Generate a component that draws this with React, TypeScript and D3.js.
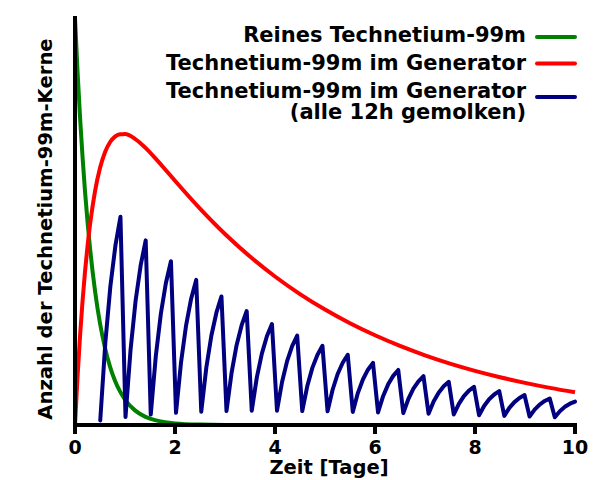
import React from "react";
import * as d3 from "d3";

// ---- data ----
const X_TICKS = [0, 2, 4, 6, 8, 10];

// Pure Tc-99m (decay, half-life 6h)
const GREEN_T = [0, 0.05, 0.1, 0.15, 0.2, 0.25, 0.3, 0.35, 0.4, 0.5, 0.6, 0.7, 0.8, 0.9, 1.0, 1.2, 1.4, 1.6, 1.8, 2.0, 2.5, 3, 4, 5, 6, 7, 8, 9, 10];
const GREEN_V = [1, 0.8706, 0.7579, 0.6598, 0.5743, 0.5, 0.4353, 0.3789, 0.3299, 0.25, 0.1895, 0.1436, 0.1088, 0.0825, 0.0625, 0.0359, 0.0206, 0.0118, 0.0068, 0.0039, 0.001, 0.0002, 0, 0, 0, 0, 0, 0, 0];

// Tc-99m in generator
const RED_T = [0, 0.05, 0.1, 0.15, 0.2, 0.25, 0.3, 0.4, 0.5, 0.6, 0.7, 0.8, 0.9, 1.0, 1.2, 1.4, 1.6, 1.8, 2.0, 2.5, 3, 3.5, 4, 4.5, 5, 5.5, 6, 6.5, 7, 7.5, 8, 8.5, 9, 9.5, 10];
const RED_V = [0, 0.1169, 0.2173, 0.3032, 0.3765, 0.4389, 0.4919, 0.5742, 0.6316, 0.6702, 0.6947, 0.7086, 0.7146, 0.7147, 0.7031, 0.682, 0.6563, 0.6285, 0.6001, 0.5316, 0.4692, 0.4139, 0.3649, 0.3217, 0.2836, 0.25, 0.2204, 0.1943, 0.1713, 0.151, 0.1331, 0.1174, 0.1035, 0.0912, 0.0804];

// Tc-99m in generator, milked every 12h
const BLUE_T = [
  0.505, 0.606, 0.707, 0.808, 0.909,
  1.010, 1.111, 1.212, 1.313, 1.414,
  1.515, 1.616, 1.717, 1.818, 1.919,
  2.020, 2.121, 2.222, 2.323, 2.424,
  2.525, 2.626, 2.727, 2.828, 2.929,
  3.030, 3.131, 3.232, 3.333, 3.434,
  3.535, 3.636, 3.737, 3.838, 3.939,
  4.040, 4.141, 4.242, 4.343, 4.444,
  4.545, 4.646, 4.747, 4.848, 4.949,
  5.051, 5.152, 5.253, 5.354, 5.455,
  5.556, 5.657, 5.758, 5.859, 5.960,
  6.061, 6.162, 6.263, 6.364, 6.465,
  6.566, 6.667, 6.768, 6.869, 6.970,
  7.071, 7.172, 7.273, 7.374, 7.475,
  7.576, 7.677, 7.778, 7.879, 7.980,
  8.081, 8.182, 8.283, 8.384, 8.485,
  8.586, 8.687, 8.788, 8.889, 8.990,
  9.091, 9.192, 9.293, 9.394, 9.495,
  9.596, 9.697, 9.798, 9.899, 10.0,
];
const BLUE_V = [
  0.0111, 0.2013, 0.3402, 0.4405, 0.5116,
  0.0195, 0.1846, 0.3051, 0.392, 0.4536,
  0.0256, 0.1689, 0.2734, 0.3488, 0.4022,
  0.0298, 0.1542, 0.2449, 0.3103, 0.3565,
  0.0326, 0.1406, 0.2193, 0.2759, 0.3159,
  0.0343, 0.128, 0.1962, 0.2453, 0.28,
  0.035, 0.1163, 0.1755, 0.2181, 0.2481,
  0.035, 0.1056, 0.1569, 0.1938, 0.2198,
  0.0344, 0.0957, 0.1403, 0.1722, 0.1947,
  0.0335, 0.0866, 0.1253, 0.153, 0.1725,
  0.0322, 0.0784, 0.1119, 0.1359, 0.1527,
  0.0308, 0.0708, 0.0999, 0.1207, 0.1353,
  0.0292, 0.0639, 0.0891, 0.1071, 0.1198,
  0.0275, 0.0576, 0.0795, 0.0951, 0.106,
  0.0258, 0.0519, 0.0709, 0.0844, 0.0939,
  0.0241, 0.0468, 0.0632, 0.0749, 0.0831,
  0.0224, 0.0421, 0.0563, 0.0665, 0.0736,
  0.0207, 0.0378, 0.0502, 0.059, 0.0651,
  0.0191, 0.034, 0.0447, 0.0523, 0.0576,
];

const LEGEND_LABELS = [
  ["Reines Technetium-99m"],
  ["Technetium-99m im Generator"],
  ["Technetium-99m im Generator", "(alle 12h gemolken)"],
];
const COLORS = ["#008000", "#ff0000", "#000080"];
const X_TITLE = "Zeit [Tage]";
const Y_TITLE = "Anzahl der Technetium-99m-Kerne";

// ---- layout ----
const W = 600;
const H = 480;
const FONT = "'DejaVu Sans', sans-serif";

export default function App() {
  const x = d3.scaleLinear().domain([0, 10]).range([75, 575]);
  const y = d3.scaleLinear().domain([0, 1]).range([425, 18]);

  const line = d3
    .line<[number, number]>()
    .x((d) => x(d[0]))
    .y((d) => y(d[1]));
  const smooth = d3
    .line<[number, number]>()
    .x((d) => x(d[0]))
    .y((d) => y(d[1]))
    .curve(d3.curveMonotoneX);

  const greenPts = GREEN_T.map((t, i) => [t, GREEN_V[i]] as [number, number]);
  const redPts = RED_T.map((t, i) => [t, RED_V[i]] as [number, number]);
  const bluePts = BLUE_T.map((t, i) => [t, BLUE_V[i]] as [number, number]);

  const legendY = [37, 63.5, 97];
  const legendTextY = [[42], [70], [98, 119]];

  return (
    <svg
      width={W}
      height={H}
      style={{ position: "absolute", left: 0, top: 0, background: "#fff" }}
      fontFamily={FONT}
      fontWeight="bold"
    >
      <rect x={0} y={0} width={W} height={H} fill="#fff" />
      <path d={smooth(greenPts) || ""} fill="none" stroke={COLORS[0]} strokeWidth={4} strokeLinejoin="round" />
      <path d={smooth(redPts) || ""} fill="none" stroke={COLORS[1]} strokeWidth={4} strokeLinejoin="round" />
      <path d={line(bluePts) || ""} fill="none" stroke={COLORS[2]} strokeWidth={4} strokeLinejoin="round" strokeLinecap="round" />

      {/* axes */}
      <line x1={x(0)} x2={x(0)} y1={y(0) + 2} y2={16} stroke="#000" strokeWidth={4} />
      <line x1={x(0) - 2} x2={x(10) + 2} y1={y(0)} y2={y(0)} stroke="#000" strokeWidth={4} />
      {X_TICKS.map((t) => (
        <g key={t}>
          <line x1={x(t)} x2={x(t)} y1={y(0)} y2={y(0) + 9} stroke="#000" strokeWidth={4} />
          <text x={x(t)} y={454} textAnchor="middle" fontSize={19}>
            {t}
          </text>
        </g>
      ))}
      <text x={329} y={474} textAnchor="middle" fontSize={19.5}>
        {X_TITLE}
      </text>
      <text transform={`translate(52,229) rotate(-90)`} textAnchor="middle" fontSize={19.6}>
        {Y_TITLE}
      </text>

      {/* legend */}
      {LEGEND_LABELS.map((lines, i) => (
        <g key={i}>
          {lines.map((s, j) => (
            <text key={j} x={526} y={legendTextY[i][j]} textAnchor="end" fontSize={21}>
              {s}
            </text>
          ))}
          <line x1={537} x2={575} y1={legendY[i]} y2={legendY[i]} stroke={COLORS[i]} strokeWidth={4} strokeLinecap="round" />
        </g>
      ))}
    </svg>
  );
}
